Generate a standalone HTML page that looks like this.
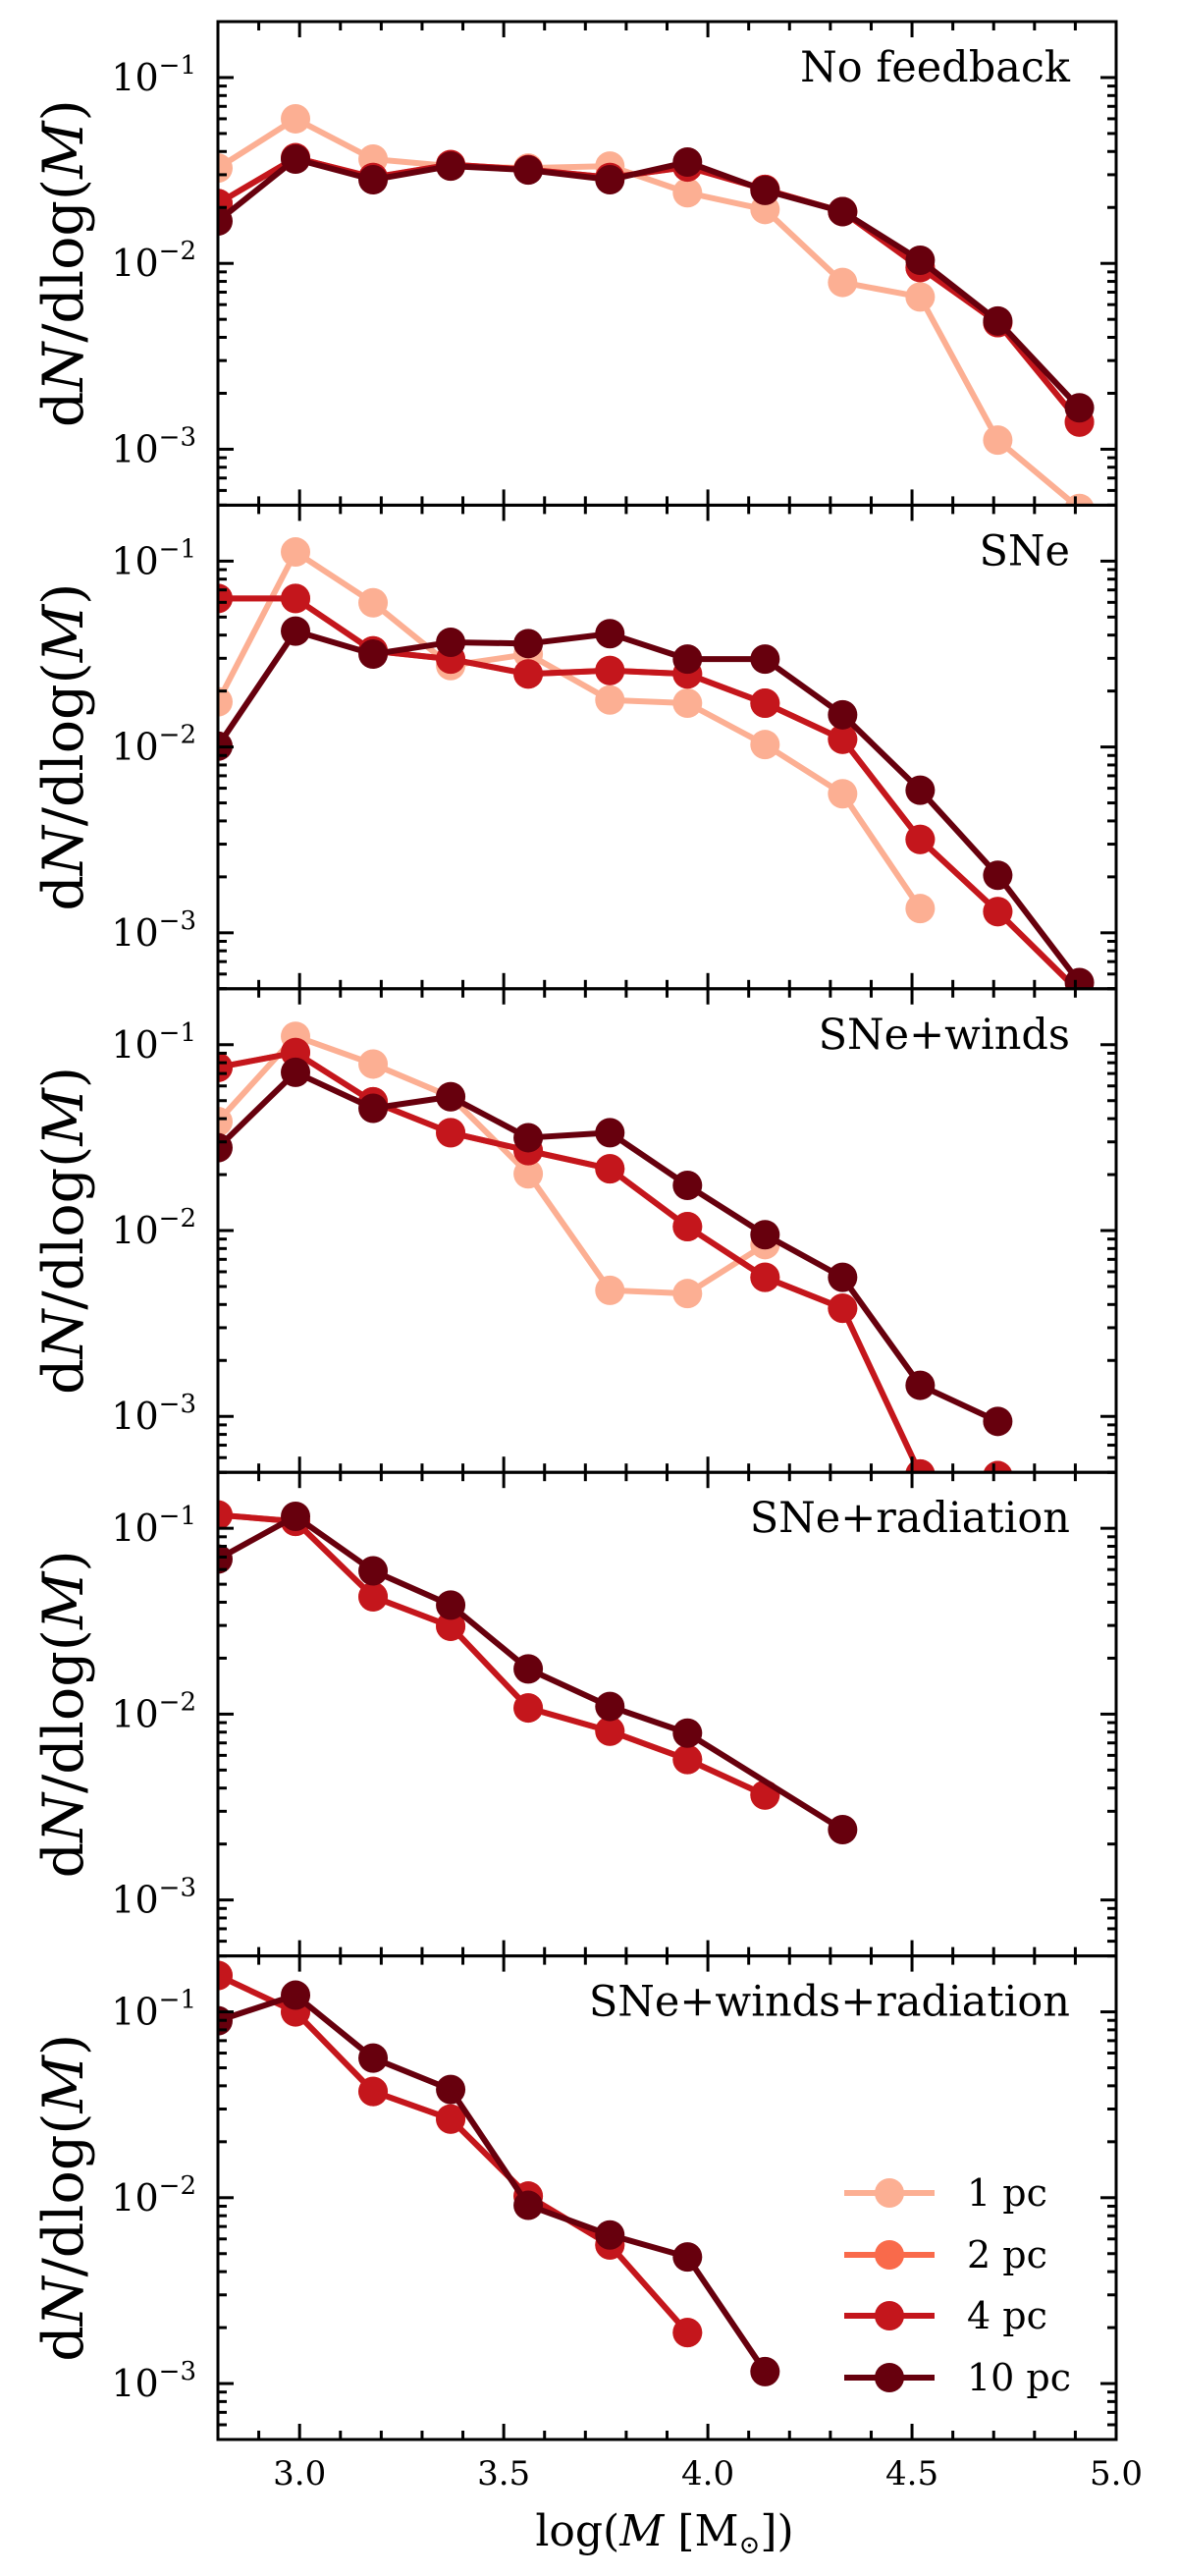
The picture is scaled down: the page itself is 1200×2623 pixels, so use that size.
<!DOCTYPE html>
<html><head><meta charset="utf-8"><style>
html,body{margin:0;padding:0;background:#fff;}
svg{display:block;}
text{font-family:"DejaVu Serif","Liberation Serif",serif;fill:#000;}
</style></head><body>
<svg id="fig" width="1200" height="2623" viewBox="0 0 1200 2623" xmlns="http://www.w3.org/2000/svg"></svg>
<script>
const massBins = [2.80,2.99,3.18,3.37,3.56,3.76,3.95,4.14,4.33,4.52,4.71,4.91];
const panelTitles = ["No feedback","SNe","SNe+winds","SNe+radiation","SNe+winds+radiation"];
const seriesLabels = ["1 pc","2 pc","4 pc","10 pc"];
const seriesColors = ["#fcaf93","#f96a4b","#c4161c","#67000d"];
const xTicks = [3.0,3.5,4.0,4.5,5.0];
const xTickLabels = ["3.0","3.5","4.0","4.5","5.0"];
const yTicks = [-1,-2,-3];
// panel 1: No feedback
const noFb1 = [0.0326,0.060,0.0364,0.0334,0.0326,0.0334,0.024,0.0195,0.0079,0.0066,0.00112,0.00048];
const noFb2 = [0.021,0.037,0.029,0.034,0.032,0.029,0.033,0.025,0.019,0.0095,0.0048,0.0014];
const noFb4 = [0.021,0.037,0.029,0.034,0.032,0.029,0.033,0.025,0.019,0.0095,0.0048,0.0014];
const noFb10 = [0.0169,0.0364,0.0282,0.0334,0.0318,0.0282,0.0351,0.0247,0.019,0.0104,0.0049,0.00167];
// panel 2: SNe
const sne1 = [0.0175,0.112,0.0597,0.0274,0.0316,0.0179,0.0172,0.0103,0.0056,0.00135,null,null];
const sne2 = [0.063,0.063,0.0329,0.0297,0.0247,0.0258,0.0247,0.0172,0.011,0.00318,0.0013,0.00048];
const sne4 = [0.063,0.063,0.0329,0.0297,0.0247,0.0258,0.0247,0.0172,0.011,0.00318,0.0013,0.00048];
const sne10 = [0.0101,0.042,0.0316,0.0366,0.036,0.0407,0.0297,0.0297,0.0149,0.00585,0.00204,0.00054];
// panel 3: SNe+winds
const snw1 = [0.0386,0.111,0.0787,0.0525,0.0202,0.00477,0.00458,0.0084,null,null,null,null];
const snw2 = [0.0755,0.0907,0.0493,0.0336,0.0269,0.0215,0.0105,0.0056,0.00382,0.00049,0.00048,null];
const snw4 = [0.0755,0.0907,0.0493,0.0336,0.0269,0.0215,0.0105,0.0056,0.00382,0.00049,0.00048,null];
const snw10 = [0.0279,0.071,0.0455,0.0525,0.0316,0.0336,0.0175,0.0095,0.0056,0.00147,0.00094,null];
// panel 4: SNe+radiation
const snr1 = [null,null,null,null,null,null,null,null,null,null,null,null];
const snr2 = [0.118,0.109,0.0428,0.0297,0.0108,0.0081,0.0057,0.00367,null,null,null,null];
const snr4 = [0.118,0.109,0.0428,0.0297,0.0108,0.0081,0.0057,0.00367,null,null,null,null];
const snr10 = [0.0683,0.116,0.059,0.0386,0.0175,0.011,0.0079,null,0.00239,null,null,null];
// panel 5: SNe+winds+radiation
const swr1 = [null,null,null,null,null,null,null,null,null,null,null,null];
const swr2 = [0.157,0.100,0.0373,0.0265,0.0102,0.00557,0.00188,null,null,null,null,null];
const swr4 = [0.157,0.100,0.0373,0.0265,0.0102,0.00557,0.00188,null,null,null,null,null];
const swr10 = [0.0896,0.123,0.0564,0.0382,0.0091,0.0063,0.0048,0.00116,null,null,null,null];

const panelData = [[noFb1,noFb2,noFb4,noFb10],[sne1,sne2,sne4,sne10],[snw1,snw2,snw4,snw10],[snr1,snr2,snr4,snr10],[swr1,swr2,swr4,swr10]];

const NS="http://www.w3.org/2000/svg";
const svg=document.getElementById('fig');
const L=222, R=1137, TOP=22, PH=492.4, XMIN=2.8, XMAX=5.0, YMIN=Math.log10(5e-4), YMAX=Math.log10(0.2);
function xs(v){return L+(v-XMIN)/(XMAX-XMIN)*(R-L);}
function ys(v,p){const t=TOP+p*PH;return t+(YMAX-Math.log10(v))/(YMAX-YMIN)*PH;}
function mk(tag,attrs,parent){const e=document.createElementNS(NS,tag);for(const k in attrs)e.setAttribute(k,attrs[k]);(parent||svg).appendChild(e);return e;}

const defs=mk('defs',{});
for(let p=0;p<5;p++){
  const top=TOP+p*PH;
  const cp=mk('clipPath',{id:'clip'+p},defs);
  mk('rect',{x:L,y:top,width:R-L,height:PH},cp);
  const g=mk('g',{'clip-path':'url(#clip'+p+')'});
  
  
  panelData[p].forEach((ser,si)=>{
    const sg=mk('g',{},g);
    
    
    let pts=[];
    ser.forEach((v,i)=>{if(v!==null)pts.push([xs(massBins[i]),ys(v,p)]);});
    if(pts.length>1){
      const pl=mk('polyline',{points:pts.map(q=>q.join(',')).join(' '),fill:'none',stroke:seriesColors[si],'stroke-width':6,'stroke-linejoin':'round'},sg);
      
      
    }
    pts.forEach(q=>{
      const c=mk('circle',{cx:q[0],cy:q[1],r:15,fill:seriesColors[si]},sg);
      
      
    });
  });
  const tg=mk('g',{stroke:'#000','stroke-width':3});
  
  
  const bot=top+PH;
  for(let k=28;k<=50;k++){
    const v=k/10, x=xs(v), major=(k%5===0), len=major?16:9;
    mk('line',{x1:x,y1:top,x2:x,y2:top+len},tg);
    mk('line',{x1:x,y1:bot,x2:x,y2:bot-len},tg);
  }
  for(let d=-4;d<=-1;d++){
    for(let m=1;m<=9;m++){
      const v=m*Math.pow(10,d); if(v<5e-4||v>0.2)continue;
      const y=ys(v,p), len=m===1?16:9;
      mk('line',{x1:L,y1:y,x2:L+len,y2:y},tg);
      mk('line',{x1:R,y1:y,x2:R-len,y2:y},tg);
    }
  }
  yTicks.forEach(e=>{
    const t=mk('text',{x:200,y:ys(Math.pow(10,e),p)+13,'text-anchor':'end','font-size':38});
    
    
    t.innerHTML='10<tspan dy="-17" font-size="26">−'+(-e)+'</tspan>';
  });
  const fr=mk('rect',{x:L,y:top,width:R-L,height:PH,fill:'none',stroke:'#000','stroke-width':3});
  
  
  const tt=mk('text',{x:1090,y:top+61,'text-anchor':'end','font-size':43});
  
  
  tt.textContent=panelTitles[p];
  const yl=mk('text',{x:0,y:0,'text-anchor':'middle','font-size':57,transform:'translate(84,'+(top+PH/2)+') rotate(-90)'});
  
  
  yl.innerHTML='d<tspan font-style="italic">N</tspan>/dlog(<tspan font-style="italic">M</tspan>)';
}
const bottom=TOP+5*PH;
xTicks.forEach((v,i)=>{
  const t=mk('text',{x:xs(v),y:bottom+46,'text-anchor':'middle','font-size':34});
  
  
  t.textContent=xTickLabels[i];
});
const xl=mk('text',{x:677,y:2592,'text-anchor':'middle','font-size':44});


xl.innerHTML='log(<tspan font-style="italic">M</tspan> [M<tspan font-size="26" dy="8">⊙</tspan><tspan dy="-8">])</tspan>';
const lg=mk('g',{});


const legY=[2233,2296,2358,2421];
seriesLabels.forEach((s,i)=>{
  const e=mk('g',{},lg);
  
  
  mk('line',{x1:860,y1:legY[i],x2:952,y2:legY[i],stroke:seriesColors[i],'stroke-width':6},e);
  mk('circle',{cx:906,cy:legY[i],r:15,fill:seriesColors[i]},e);
  const t=mk('text',{x:985,y:legY[i]+13,'font-size':38},e);
  t.textContent=s;
});
</script>
</body></html>
